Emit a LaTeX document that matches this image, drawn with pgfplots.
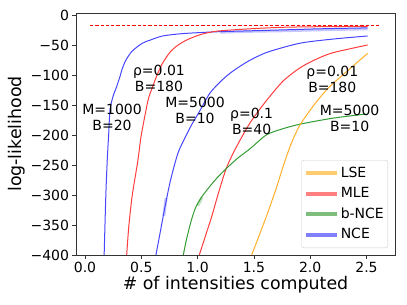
\documentclass[border=0pt]{standalone}
\usepackage{pgfplots}
\pgfplotsset{compat=1.18}
\usepackage{fontspec}
\setmainfont{DejaVu Sans}
\definecolor{cB}{RGB}{70,70,255}
\definecolor{cR}{RGB}{255,60,60}
\definecolor{cG}{RGB}{50,155,50}
\definecolor{cO}{RGB}{255,175,40}
\definecolor{lB}{RGB}{128,128,255}
\definecolor{lR}{RGB}{255,128,128}
\definecolor{lG}{RGB}{125,190,125}
\definecolor{lO}{RGB}{255,205,110}
\definecolor{dR}{RGB}{255,0,0}
\newcommand{\fs}{\fontsize{14bp}{16bp}\selectfont}
\begin{document}
\begin{tikzpicture}
\begin{axis}[
  scale only axis, width=319bp, height=242bp,
  xmin=-0.08, xmax=2.753, ymin=-400, ymax=3.3,
  xtick={0,0.5,1,1.5,2,2.5}, xticklabels={0.0,0.5,1.0,1.5,2.0,2.5},
  ytick={-400,-350,-300,-250,-200,-150,-100,-50,0},
  yticklabels={−400,−350,−300,−250,−200,−150,−100,−50,0},
  tick align=outside, tick pos=left, major tick length=3.5bp,
  tick style={black!80, line width=0.8bp},
  axis line style={black!80, line width=0.8bp},
  ticklabel style={font=\fs},
  /pgf/number format/assume math mode=true,
  xlabel={\# of intensities computed}, ylabel={log-likelihood},
  label style={font=\fontsize{17.4bp}{20bp}\selectfont},
  xlabel style={at={([yshift=-30bp]axis description cs:0.5,0)}, anchor=center},
  ylabel style={at={([xshift=-59bp]axis description cs:0,0.5)}, anchor=center},
  legend cell align=left,
  legend style={at={(1,0)}, anchor=south east, xshift=-7bp, yshift=7bp,
    font=\fs, draw=black!20, rounded corners=2bp, fill=white, fill opacity=0.8, text opacity=1,
    inner xsep=2bp, inner ysep=3bp, row sep=0bp,
    nodes={text height=11bp, text depth=3bp, inner ysep=3.2bp}},
  legend image code/.code={\draw[#1, line width=4bp] (0bp,0bp) -- (31bp,0bp);},
  every axis plot/.append style={smooth, tension=0.45},
]
\coordinate (bl) at (rel axis cs:0,0);
\coordinate (tr) at (rel axis cs:1,1);
\addlegendimage{lO}\addlegendentry{LSE}
\addlegendimage{lR}\addlegendentry{MLE}
\addlegendimage{lG}\addlegendentry{b-NCE}
\addlegendimage{lB}\addlegendentry{NCE}
% dashed reference line
\addplot[forget plot, color=dR, draw=dR, sharp plot, line width=1.3bp, dash pattern=on 3.3bp off 2bp, opacity=1] coordinates {(0.044,-18) (2.61,-18)};
% NCE M=1000 band
\addplot[forget plot, draw=cB, opacity=0.3, line width=2.5bp] coordinates {(1.2,-29) (1.5,-27.5) (1.8,-26.5) (2.1,-25) (2.51,-23.5)};
% NCE M=1000 B=20
\addplot[forget plot, draw=cB, line width=1bp] coordinates {(0.170,-400) (0.185,-300) (0.198,-240) (0.210,-200) (0.222,-158) (0.25,-135) (0.28,-120) (0.31,-103) (0.33,-90) (0.364,-75) (0.42,-60) (0.51,-47) (0.577,-42) (0.69,-35) (0.87,-31) (1.17,-28) (1.45,-26.5) (1.73,-25) (2.1,-23) (2.51,-21.5)};
% MLE rho=0.01 B=180
\addplot[forget plot, draw=cR, line width=1bp] coordinates {(0.370,-400) (0.39,-350) (0.42,-300) (0.47,-242) (0.50,-200) (0.56,-142) (0.60,-120) (0.64,-100) (0.69,-80) (0.755,-62) (0.82,-51) (0.90,-42) (1.02,-33) (1.17,-27) (1.47,-23) (1.76,-20.5) (2.1,-19.5) (2.51,-19)};
% NCE M=5000 B=10
\addplot[forget plot, draw=cB, opacity=0.3, line width=3bp] coordinates {(0.70,-335) (0.72,-305)};
\addplot[forget plot, draw=cB, line width=1bp] coordinates {(0.63,-400) (0.67,-360) (0.71,-320) (0.76,-275) (0.826,-230) (0.90,-200) (0.95,-182) (1.01,-163) (1.11,-130) (1.22,-108) (1.31,-94) (1.45,-77) (1.62,-62) (1.91,-47) (2.21,-40) (2.51,-35)};
% MLE rho=0.1 B=40
\addplot[forget plot, draw=cR, line width=1bp] coordinates {(1.015,-400) (1.07,-368) (1.125,-336) (1.18,-300) (1.25,-258) (1.33,-225) (1.465,-180) (1.614,-142) (1.76,-110) (1.91,-88) (2.05,-74) (2.20,-63) (2.51,-50)};
% b-NCE
\addplot[forget plot, draw=cG, opacity=0.3, line width=3bp] coordinates {(1.00,-318) (1.04,-304)};
\addplot[forget plot, draw=cG, line width=1bp] coordinates {(0.873,-400) (0.90,-375) (0.94,-345) (0.98,-322) (1.03,-305) (1.09,-290) (1.17,-272) (1.26,-255) (1.36,-238) (1.465,-223) (1.61,-200) (1.75,-190) (1.91,-182) (2.20,-172) (2.50,-165)};
% LSE
\addplot[forget plot, draw=cO, line width=1bp] coordinates {(1.48,-400) (1.55,-366) (1.614,-334) (1.70,-288) (1.76,-252) (1.83,-215) (1.91,-183) (2.05,-146) (2.17,-120) (2.35,-90) (2.51,-64)};
% annotations
\node[font=\fs, align=center] at (axis cs:0.657,-105) {ρ=0.01\\B=180};
\node[font=\fs, align=center] at (axis cs:0.24,-170) {M=1000\\B=20};
\node[font=\fs, align=center] at (axis cs:0.977,-159) {M=5000\\B=10};
\node[font=\fs, align=center] at (axis cs:1.48,-177) {ρ=0.1\\B=40};
\node[font=\fs, align=center] at (axis cs:2.196,-107) {ρ=0.01\\B=180};
\node[font=\fs, align=center] at (axis cs:2.35,-172) {M=5000\\B=10};
\node[font=\fontsize{8.3bp}{10bp}\selectfont, anchor=east, inner sep=0pt] at ([yshift=-27bp]rel axis cs:1,0) {1e10};
\end{axis}
\pgfresetboundingbox
\useasboundingbox ([shift={(-76bp,-50bp)}]bl) rectangle ([shift={(12bp,13bp)}]tr);
\end{tikzpicture}
\end{document}
